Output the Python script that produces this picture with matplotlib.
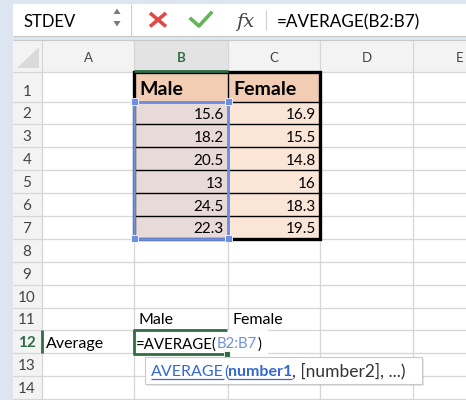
import matplotlib
matplotlib.use("Agg")
import matplotlib.pyplot as plt
from matplotlib.patches import Rectangle, Polygon

## Spreadsheet contents
col_names = ["A", "B", "C", "D", "E"]
row_names = [str(i) for i in range(1, 15)]
headers = ["Male", "Female"]
male = [15.6, 18.2, 20.5, 13, 24.5, 22.3]
female = [16.9, 15.5, 14.8, 16, 18.3, 19.5]
name_box = "STDEV"
formula = "=AVERAGE(B2:B7)"
row12_label = "Average"
tooltip_parts = ["AVERAGE", "(", "number1", ", [number2], ...)"]

## Layout in pixels
W, H = 466, 400
col_edges = [42, 134, 228, 320, 413, 506]
row_edges = [72, 101.5]
for i in range(13):
    row_edges.append(row_edges[-1] + 22.9)

FONT = "Lato"
bg_blue = "#dde6f0"
grid = "#d6d6d6"
green = "#2f6e45"
sel_blue = "#6d8fe3"

fig = plt.figure(figsize=(W / 100.0, H / 100.0), dpi=100)
ax = fig.add_axes([0, 0, 1, 1])
ax.set_xlim(0, W)
ax.set_ylim(H, 0)
ax.axis("off")

def rect(x0, y0, x1, y1, fc="none", ec="none", lw=0, z=1, **kw):
    ax.add_patch(Rectangle((x0, y0), x1 - x0, y1 - y0, facecolor=fc,
                           edgecolor=ec, linewidth=lw, zorder=z, **kw))

def line(xs, ys, c, lw, z=3):
    ax.plot(xs, ys, color=c, linewidth=lw, zorder=z, solid_capstyle="butt")

def txt(x, y, s, size=11, ha="left", color="black", weight="normal", z=6, **kw):
    return ax.text(x, y, s, fontsize=size, ha=ha, va="baseline", color=color,
                   fontweight=weight, family=FONT, zorder=z, **kw)

def right_end(t):
    fig.canvas.draw()
    ex = t.get_window_extent()
    return ax.transData.inverted().transform((ex.x1, ex.y0))[0]

# background
rect(0, 0, W, H, fc=bg_blue, z=0)
# formula bar
rect(13, 4, W, 36, fc="white", z=1)
line([13, W], [36, 36], "#c8c8c8", 0.8)
line([13, W], [40, 40], "#c8c8c8", 0.8)
line([130.5, 130.5], [4, 36], "#d0d0d0", 0.8)
txt(23, 27, name_box, size=12)
ax.add_patch(Polygon([[113.5, 14], [120.5, 14], [117, 8.5]], closed=True, fc="#7a7a7a", ec="none", zorder=4))
ax.add_patch(Polygon([[113.5, 21], [120.5, 21], [117, 26.5]], closed=True, fc="#7a7a7a", ec="none", zorder=4))
line([150, 166], [13, 26.5], "#de4a45", 2.6)
line([150, 166], [26.5, 13], "#de4a45", 2.6)
ax.plot([191, 199, 211], [19, 26, 13], color="#67b35a", linewidth=2.6, zorder=4)
ax.text(236, 27, "fx", fontsize=14, family="DejaVu Serif", style="italic",
        color="#444444", va="baseline", zorder=6)
line([265.5, 265.5], [10, 30], "#d0d0d0", 0.8)
txt(277, 27, formula, size=12.3)

# sheet area
rect(13, 40, W, H, fc="white", z=1)
rect(13, 40, W, 72, fc="#f3f3f3", z=1)
rect(13, 72, 42, H, fc="#f3f3f3", z=1)
ax.add_patch(Polygon([[17, 68], [39, 68], [39, 47]], closed=True, fc="#dadada", ec="none", zorder=2))
rect(col_edges[1], 40, col_edges[2], 72, fc="#e3e3e3", z=1)

# gridlines
for x in col_edges[:-1]:
    line([x, x], [40, H], grid, 0.9, z=2)
for y in row_edges:
    line([13, W], [y, y], grid, 0.9, z=2)

# column letters
for i, c in enumerate(col_names):
    cx = (col_edges[i] + col_edges[i + 1]) / 2.0
    if c == "B":
        txt(cx, 62, c, size=9.5, ha="center", color=green, weight="bold")
    else:
        txt(cx, 62, c, size=9.5, ha="center", color="#444444")
line([col_edges[1], col_edges[2]], [71, 71], green, 2.0, z=4)

# row numbers
for i, r in enumerate(row_names):
    by = row_edges[i + 1] - 6
    if r == "12":
        txt(27, by, r, size=11, ha="center", color=green, weight="bold")
    else:
        txt(27, by, r, size=11, ha="center", color="#444444")
line([42, 42], [row_edges[11], row_edges[12]], green, 2.0, z=4)

# table fills
bx0, bx1, cx1 = col_edges[1], col_edges[2], col_edges[3]
rect(bx0, row_edges[0], cx1, row_edges[1], fc="#f2cdb3", z=2)
rect(bx0, row_edges[1], bx1, row_edges[7], fc="#e8dad9", z=2)
rect(bx1, row_edges[1], cx1, row_edges[7], fc="#fbe5d7", z=2)
for y in row_edges[1:7]:
    line([bx0, cx1], [y, y], "black", 1.0, z=3)
line([bx1, bx1], [row_edges[0], row_edges[7]], "black", 1.0, z=3)
rect(bx0, row_edges[0], cx1, row_edges[7], ec="black", lw=2.4, z=3)

txt(bx0 + 5, row_edges[1] - 6.5, headers[0], size=14, weight="bold")
txt(bx1 + 5, row_edges[1] - 6.5, headers[1], size=14, weight="bold")
for i in range(len(male)):
    by = row_edges[i + 2] - 5.5
    txt(bx1 - 4, by, "{:g}".format(male[i]), size=11, ha="right")
    txt(cx1 - 4, by, "{:g}".format(female[i]), size=11, ha="right")

# selection around B2:B7
rect(bx0, row_edges[1], bx1, row_edges[7], ec=sel_blue, lw=2.0, z=5)
for hx in (bx0, bx1):
    for hy in (row_edges[1], row_edges[7]):
        rect(hx - 3.5, hy - 3.5, hx + 3.5, hy + 3.5, fc=sel_blue, ec="white", lw=0.6, z=5)

# rows 11 and 12
txt(bx0 + 5, row_edges[11] - 6, headers[0], size=11.5)
txt(bx1 + 5, row_edges[11] - 6, headers[1], size=11.5)
txt(46, row_edges[12] - 5, row12_label, size=11.5)
ay0, ay1 = row_edges[11], row_edges[12] + 1
rect(bx0, ay0, bx1 + 40, ay1, fc="white", z=4)
line([bx0, bx0], [ay0, ay1], green, 2.0, z=5)
line([bx0 - 1, bx1 - 1], [ay0, ay0], green, 2.0, z=5)
line([bx0 - 1, bx1 - 1], [ay1, ay1], green, 2.0, z=5)
rect(bx1 - 4, row_edges[12] - 2, bx1 + 2, row_edges[12] + 4, fc=green, ec="white", lw=0.6, z=6)
t = txt(136, row_edges[12] - 5, "=AVERAGE(", size=10.8, z=7)
t = txt(right_end(t), row_edges[12] - 5, "B2:B7", size=10.8, color="#6f8fe0", z=7)
txt(right_end(t), row_edges[12] - 5, ")", size=10.8, z=7)

# tooltip
rect(147, 359, 424, 386, fc="#00000018", z=7)
rect(145, 357, 422, 384, fc="white", ec="#c9c9c9", lw=0.8, z=8)
tip_color = ["#3567d6", "#3567d6", "#3567d6", "#333333"]
tip_weight = ["normal", "normal", "bold", "normal"]
tip_size = [11.5, 11.5, 11.5, 12.5]
tx = 151
for part, c, w, s in zip(tooltip_parts, tip_color, tip_weight, tip_size):
    tt = txt(tx, 376.5, part, size=s, color=c, weight=w, z=9)
    x_end = right_end(tt)
    if part in ("AVERAGE", "number1"):
        line([tx, x_end], [379, 379], c, 0.9, z=9)
    tx = x_end

fig.savefig("out.png", dpi=100)
